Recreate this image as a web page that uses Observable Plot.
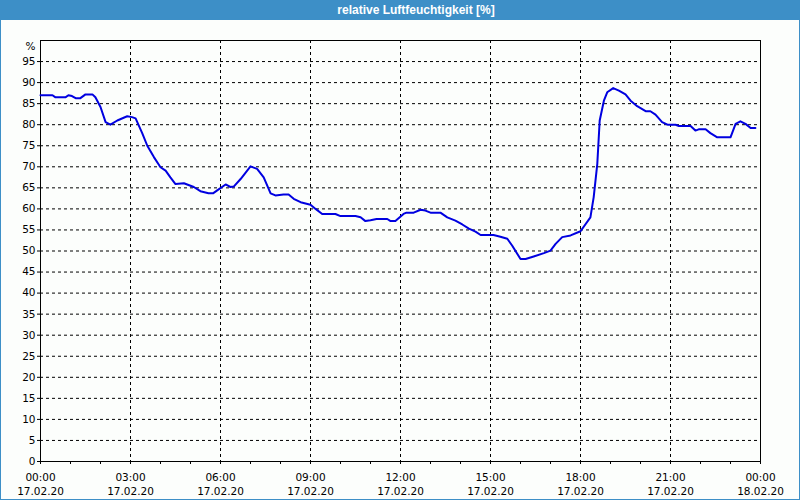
<!DOCTYPE html>
<html><head><meta charset="utf-8">
<script src="https://cdn.jsdelivr.net/npm/d3@7"></script>
<script src="https://cdn.jsdelivr.net/npm/@observablehq/plot@0.6"></script>
<style>
html,body{margin:0;padding:0;background:#fcfefc;}
#wrap{position:relative;width:800px;height:500px;box-sizing:border-box;border:1px solid #3d8fc7;border-top:none;background:#fcfefc;overflow:hidden;}
#title{height:20px;background:#3d8fc7;color:#fff;font:bold 12px "Liberation Sans",sans-serif;line-height:20px;text-align:center;padding-left:32px;}
#chart svg{display:block;}
</style>
</head><body>
<div id="wrap"><div id="title">relative Luftfeuchtigkeit [%]</div><div id="chart"></div></div>
<script>
const hours = [0,0.4,0.5,0.83,0.93,1.05,1.17,1.33,1.5,1.73,1.83,2.0,2.17,2.33,2.56,2.89,3.05,3.17,3.39,3.56,3.78,4.0,4.17,4.33,4.5,4.78,5.11,5.33,5.6,5.75,5.89,6.17,6.33,6.44,6.67,7.0,7.22,7.44,7.67,7.83,8.1,8.27,8.44,8.67,9.0,9.17,9.39,9.83,10.0,10.5,10.67,10.83,11.0,11.2,11.56,11.67,11.83,12.1,12.2,12.44,12.67,12.83,13.0,13.33,13.56,13.83,14.06,14.28,14.5,14.67,15.1,15.33,15.56,15.72,16.0,16.17,16.44,16.78,17.0,17.17,17.39,17.67,18.0,18.33,18.44,18.56,18.64,18.78,18.89,19.09,19.28,19.5,19.67,19.89,20.17,20.33,20.5,20.72,20.9,21.17,21.28,21.67,21.83,21.94,22.17,22.33,22.56,23.0,23.17,23.33,23.5,23.67,23.83];
const humidity = [87,87,86.5,86.5,87,86.8,86.3,86.3,87.2,87.2,86.5,84.2,80.6,80,81,82,81.8,81.5,78,75,72.3,69.9,69.1,67.5,65.9,66.1,65.2,64.2,63.7,63.7,64.4,65.8,65.2,65.3,67.1,70.1,69.5,67.5,63.7,63.2,63.4,63.4,62.4,61.6,61,60,58.8,58.8,58.3,58.3,58,57.1,57.3,57.6,57.6,57.1,57.1,58.8,59.1,59.1,59.8,59.6,59.1,59.1,58,57.2,56.3,55.3,54.6,53.8,53.8,53.4,52.9,51.3,48.1,48.1,48.7,49.5,50.1,51.7,53.3,53.7,54.7,58,62.8,70.7,81,85.7,87.7,88.7,88.1,87.2,85.7,84.4,83.2,83.2,82.4,80.6,80,80,79.7,79.7,78.6,78.9,78.9,78,77,77,80.2,80.8,80.2,79.2,79.2];
const tickHours = [0,3,6,9,12,15,18,21,24];
const tickTimes = ["00:00","03:00","06:00","09:00","12:00","15:00","18:00","21:00","00:00"];
const tickDates = ["17.02.20","17.02.20","17.02.20","17.02.20","17.02.20","17.02.20","17.02.20","17.02.20","18.02.20"];
const minorHours = d3.range(0, 25);
const yTicks = d3.range(0, 100, 5);
const yGrid = d3.range(5, 100, 5);
const unitLabel = "%";

const data = hours.map((h, i) => ({h, v: humidity[i]}));

const chart = Plot.plot({
  width: 798,
  height: 479,
  marginLeft: 39,
  marginRight: 39,
  marginTop: 20,
  marginBottom: 38,
  style: {fontFamily: "'DejaVu Sans', sans-serif", fontSize: "10.5px", background: "transparent", color: "#000"},
  x: {domain: [0, 24], axis: null},
  y: {domain: [0, 100], axis: null},
  marks: [
    Plot.gridY(yGrid, {stroke: "#000", strokeOpacity: 1, strokeDasharray: "3,3"}),
    Plot.gridX(tickHours.slice(1, -1), {stroke: "#000", strokeOpacity: 1, strokeDasharray: "3,3"}),
    Plot.frame({stroke: "#000"}),
    Plot.axisY(yTicks, {tickSize: 3, tickPadding: 2, tickFormat: d => String(d), label: null, fill: "#000"}),
    Plot.text([unitLabel], {y: () => 100, text: d => d, frameAnchor: "left", textAnchor: "end", dx: -5, dy: 6, fill: "#000"}),
    Plot.axisX(minorHours, {tickSize: 3, tickFormat: () => "", label: null}),
    Plot.axisX(tickHours, {tickSize: 0, tickPadding: 9, lineHeight: 1.38, tickFormat: d => tickTimes[tickHours.indexOf(d)] + "\n" + tickDates[tickHours.indexOf(d)], label: null, fill: "#000"}),
    Plot.line(data, {x: "h", y: "v", stroke: "#0000e0", strokeWidth: 2})
  ]
});
document.getElementById("chart").appendChild(chart);
</script>
</body></html>
